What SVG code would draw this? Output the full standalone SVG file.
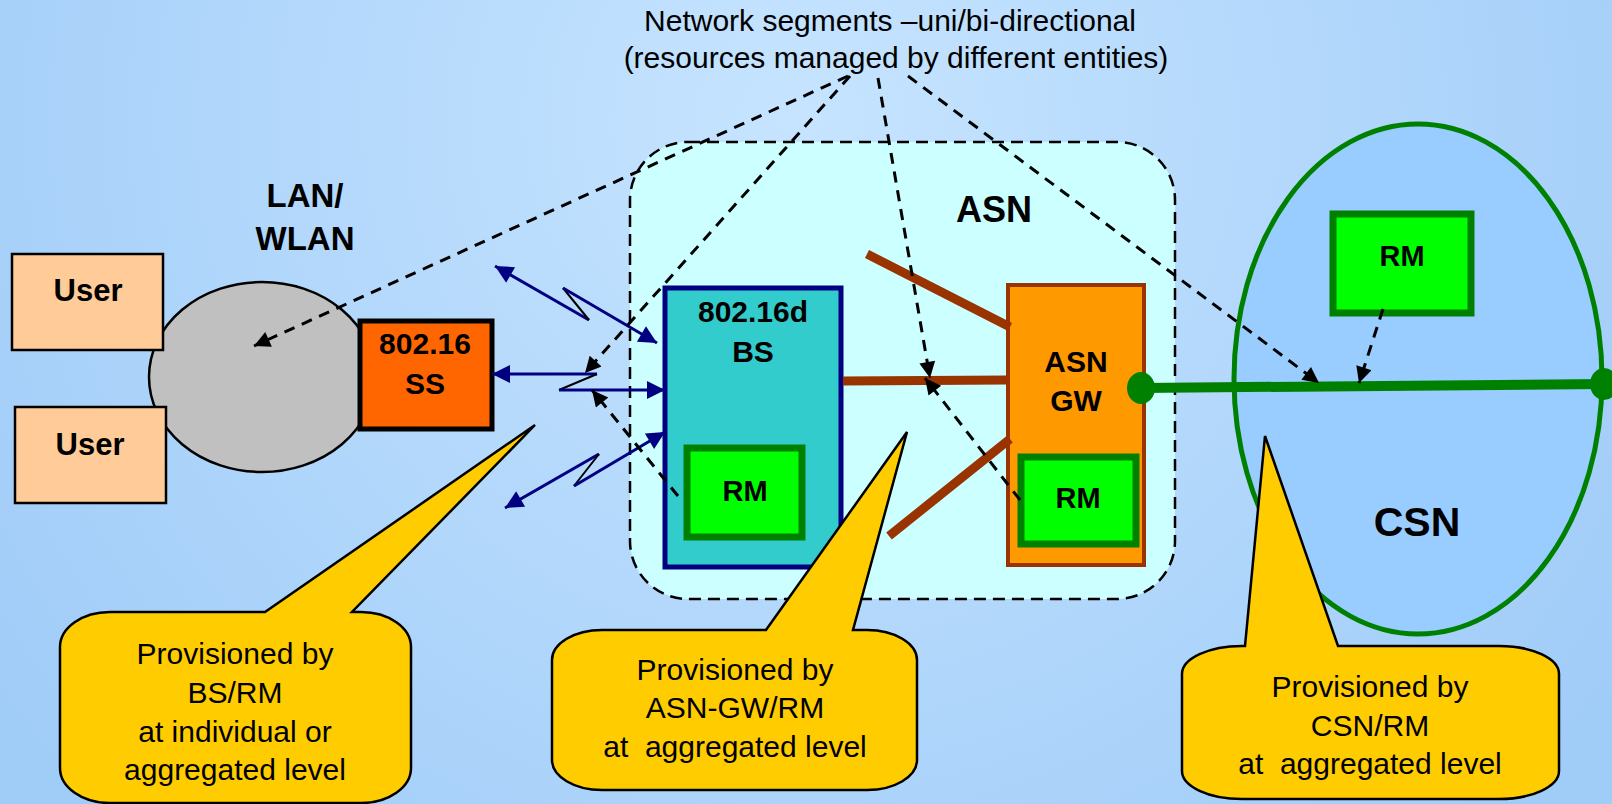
<svg xmlns="http://www.w3.org/2000/svg" width="1612" height="804" viewBox="0 0 1612 804">
<defs>
<radialGradient id="bg" cx="800" cy="120" r="1000" gradientUnits="userSpaceOnUse">
<stop offset="0" stop-color="#C6E4FF"/>
<stop offset="1" stop-color="#A0CCF8"/>
</radialGradient>
<marker id="ah" viewBox="0 0 10 10" refX="10" refY="5" markerWidth="20" markerHeight="16" markerUnits="userSpaceOnUse" orient="auto">
<path d="M0,0 L10,5 L0,10 z" fill="#000"/>
</marker>
<marker id="nh" viewBox="0 0 10 10" refX="10" refY="5" markerWidth="22" markerHeight="18" markerUnits="userSpaceOnUse" orient="auto">
<path d="M0,0 L10,5 L0,10 z" fill="#000080"/>
</marker>
<style>
.t{font-family:"Liberation Sans",Arial,sans-serif;fill:#000;text-anchor:middle}
.b{font-weight:bold}
.rm{fill:#00FF00;stroke:#008000;stroke-width:7}
.user{fill:#FFCC99;stroke:#000;stroke-width:2.5}
.call{fill:#FFCC00;stroke:#000;stroke-width:2.5;stroke-linejoin:miter}
.dash{fill:none;stroke:#000;stroke-width:3;stroke-dasharray:11 8;marker-end:url(#ah)}
.nv{fill:none;stroke:#000080;stroke-width:3;marker-end:url(#nh)}
.zz{fill:none;stroke:#000;stroke-width:2}
.brown{stroke:#993300;stroke-width:9;fill:none}
</style>
</defs>
<rect x="0" y="0" width="1612" height="804" fill="url(#bg)"/>

<g id="title">
<text class="t" x="890" y="31" font-size="30">Network segments –uni/bi-directional</text>
<text class="t" x="896" y="68" font-size="30">(resources managed by different entities)</text>
</g>

<g id="asn">
<rect x="630" y="142" width="545" height="457" rx="58" ry="58" fill="#CCFFFF" stroke="#000" stroke-width="2.5" stroke-dasharray="12 7"/>
<text class="t b" x="994" y="222" font-size="36">ASN</text>
</g>

<g id="csn">
<ellipse cx="1418" cy="379" rx="184" ry="255" fill="#99CCFF" stroke="#008000" stroke-width="5"/>
<text class="t b" x="1417" y="536" font-size="41">CSN</text>
</g>

<g id="csn-rm">
<rect class="rm" x="1333" y="214" width="138" height="99"/>
<text class="t b" x="1402" y="266" font-size="29">RM</text>
</g>

<g id="lan">
<ellipse cx="262" cy="377" rx="113" ry="95" fill="#C0C0C0" stroke="#000" stroke-width="2.5"/>
<text class="t b" x="305" y="207" font-size="33">LAN/</text>
<text class="t b" x="305" y="250" font-size="33">WLAN</text>
</g>

<g id="user1">
<rect class="user" x="12" y="254" width="151" height="96"/>
<text class="t b" x="88" y="301" font-size="31">User</text>
</g>

<g id="user2">
<rect class="user" x="15" y="407" width="151" height="96"/>
<text class="t b" x="90" y="455" font-size="31">User</text>
</g>

<g id="ss">
<rect x="360" y="321" width="132" height="108" fill="#FF6600" stroke="#000" stroke-width="5"/>
<text class="t b" x="425" y="354" font-size="30">802.16</text>
<text class="t b" x="425" y="394" font-size="30">SS</text>
</g>

<g id="bs">
<rect x="665" y="288" width="176" height="279" fill="#33CCCC" stroke="#000080" stroke-width="5"/>
<text class="t b" x="753" y="322" font-size="30">802.16d</text>
<text class="t b" x="753" y="362" font-size="30">BS</text>
<rect class="rm" x="687" y="448" width="115" height="89"/>
<text class="t b" x="745" y="501" font-size="29">RM</text>
</g>

<g id="asngw">
<rect x="1008" y="285" width="136" height="280" fill="#FF9900" stroke="#993300" stroke-width="4"/>
<text class="t b" x="1076" y="372" font-size="30">ASN</text>
<text class="t b" x="1076" y="411" font-size="30">GW</text>
<rect class="rm" x="1021" y="457" width="115" height="87"/>
<text class="t b" x="1078" y="508" font-size="29">RM</text>
</g>

<g id="callout1">
<path class="call" d="M110 612 L265 612 L535 425 L352 612 L361 612 A50 35 0 0 1 411 647 L411 768 A50 35 0 0 1 361 803 L110 803 A50 35 0 0 1 60 768 L60 647 A50 35 0 0 1 110 612 Z"/>
<text class="t" x="235" y="664" font-size="30">Provisioned by</text>
<text class="t" x="235" y="703" font-size="30">BS/RM</text>
<text class="t" x="235" y="742" font-size="30">at individual or</text>
<text class="t" x="235" y="780" font-size="30">aggregated level</text>
</g>

<g id="callout2">
<path class="call" d="M602 630 L766 630 L907 432 L853 630 L867 630 A50 30 0 0 1 917 660 L917 760 A50 30 0 0 1 867 790 L602 790 A50 30 0 0 1 552 760 L552 660 A50 30 0 0 1 602 630 Z"/>
<text class="t" x="735" y="680" font-size="30">Provisioned by</text>
<text class="t" x="735" y="718" font-size="30">ASN-GW/RM</text>
<text class="t" x="735" y="757" font-size="30" xml:space="preserve">at  aggregated level</text>
</g>

<g id="callout3">
<path class="call" d="M1242 646 L1245 646 L1265 436 L1338 646 L1499 646 A60 28 0 0 1 1559 674 L1559 771 A60 28 0 0 1 1499 799 L1242 799 A60 28 0 0 1 1182 771 L1182 674 A60 28 0 0 1 1242 646 Z"/>
<text class="t" x="1370" y="697" font-size="30">Provisioned by</text>
<text class="t" x="1370" y="736" font-size="30">CSN/RM</text>
<text class="t" x="1370" y="774" font-size="30" xml:space="preserve">at  aggregated level</text>
</g>

<g id="connectors">
<line class="brown" x1="867" y1="254" x2="1010" y2="327"/>
<line class="brown" x1="843" y1="381" x2="1008" y2="380"/>
<line class="brown" x1="889" y1="536" x2="1010" y2="439"/>
<line x1="1141" y1="388" x2="1604" y2="384" stroke="#008000" stroke-width="10"/>
<ellipse cx="1141" cy="388" rx="14" ry="16" fill="#008000"/>
<ellipse cx="1604" cy="384" rx="14" ry="16" fill="#008000"/>

<line class="nv" x1="589" y1="320" x2="495" y2="266"/>
<line class="zz" x1="589" y1="320" x2="563" y2="288"/>
<line class="nv" x1="563" y1="288" x2="657" y2="343"/>
<line class="nv" x1="597" y1="374" x2="492" y2="374"/>
<line class="zz" x1="597" y1="374" x2="559" y2="390"/>
<line class="nv" x1="559" y1="390" x2="665" y2="390"/>
<line class="nv" x1="599" y1="454" x2="505" y2="508"/>
<line class="zz" x1="599" y1="454" x2="574" y2="486"/>
<line class="nv" x1="574" y1="486" x2="665" y2="432"/>

<line class="dash" x1="848" y1="76" x2="254" y2="346"/>
<line class="dash" x1="850" y1="76" x2="585" y2="373"/>
<line class="dash" x1="878" y1="78" x2="930" y2="378"/>
<line class="dash" x1="908" y1="76" x2="1319" y2="383"/>
<line class="dash" x1="678" y1="496" x2="592" y2="390"/>
<line class="dash" x1="1020" y1="500" x2="925" y2="378"/>
<line class="dash" x1="1383" y1="309" x2="1359" y2="383"/>
</g>
</svg>
